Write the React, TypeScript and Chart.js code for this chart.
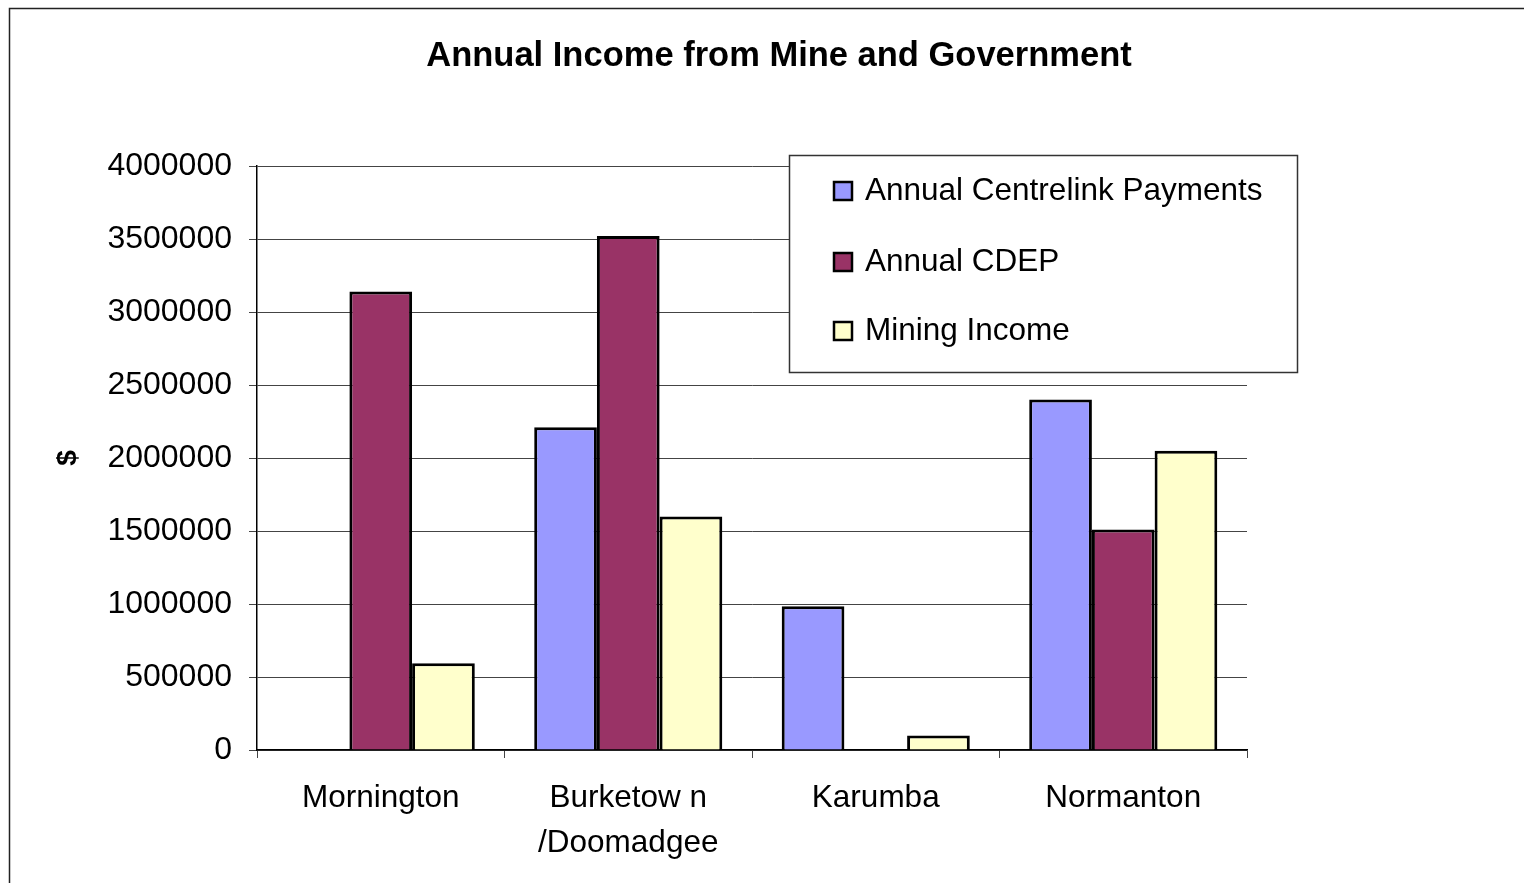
import React, { useEffect, useRef } from "react";
import { Chart, registerables } from "chart.js";

Chart.register(...registerables);

const categories: (string | string[])[] = [
  "Mornington",
  ["Burketow n", "/Doomadgee"],
  "Karumba",
  "Normanton",
];
const seriesNames = ["Annual Centrelink Payments", "Annual CDEP", "Mining Income"];
const centrelink = [0, 2210000, 985000, 2400000];
const cdep = [3140000, 3520000, 0, 1510000];
const mining = [595000, 1600000, 100000, 2050000];
const yTicks = [0, 500000, 1000000, 1500000, 2000000, 2500000, 3000000, 3500000, 4000000];

const colors = ["#9999FF", "#993366", "#FFFFCC"];
const FONT = "'Liberation Sans', Arial, sans-serif";

const framePlugin = {
  id: "frame",
  afterDraw(chart: any) {
    const ctx = chart.ctx;
    ctx.save();
    ctx.strokeStyle = "#222";
    ctx.lineWidth = 1.5;
    ctx.beginPath();
    ctx.moveTo(9.5, chart.height + 5);
    ctx.lineTo(9.5, 8.5);
    ctx.lineTo(chart.width + 5, 8.5);
    ctx.stroke();
    ctx.restore();
  },
};

const legendPlugin = {
  id: "boxLegend",
  afterDraw(chart: any) {
    const ctx = chart.ctx;
    const bx = 789.5, by = 155.5, bw = 508, bh = 217;
    ctx.save();
    ctx.fillStyle = "#ffffff";
    ctx.fillRect(bx, by, bw, bh);
    ctx.strokeStyle = "#333";
    ctx.lineWidth = 1.5;
    ctx.strokeRect(bx, by, bw, bh);
    const rows = [191, 262, 331];
    chart.data.datasets.forEach((ds: any, i: number) => {
      const cy = rows[i];
      ctx.fillStyle = ds.backgroundColor;
      ctx.fillRect(834, cy - 9, 18, 18);
      ctx.strokeStyle = "#000";
      ctx.lineWidth = 2.5;
      ctx.strokeRect(834, cy - 9, 18, 18);
      ctx.fillStyle = "#000";
      ctx.font = `31.5px ${FONT}`;
      ctx.textBaseline = "middle";
      ctx.textAlign = "left";
      ctx.fillText(ds.label, 865, cy);
    });
    ctx.restore();
  },
};

export default function App() {
  const ref = useRef<HTMLCanvasElement>(null);

  useEffect(() => {
    if (!ref.current) return;
    const seriesData = [centrelink, cdep, mining];
    const chart = new Chart(ref.current, {
      type: "bar",
      data: {
        labels: categories as any,
        datasets: seriesNames.map((name, i) => ({
          label: name,
          data: seriesData[i],
          backgroundColor: colors[i],
          borderColor: "#000",
          borderWidth: 3,
          categoryPercentage: 0.76,
          barPercentage: 1.0,
        })),
      },
      options: {
        animation: false,
        responsive: false,
        devicePixelRatio: 1,
        layout: { padding: { left: 34, right: 0, top: 0, bottom: 0 } },
        plugins: {
          legend: { display: false },
          tooltip: { enabled: false },
          title: {
            display: true,
            text: "Annual Income from Mine and Government",
            color: "#000",
            font: { family: FONT, size: 34.5, weight: "bold", lineHeight: 1.2 },
            padding: { top: 35.3, bottom: 89.3 },
          },
        },
        scales: {
          x: {
            grid: {
              display: true,
              drawOnChartArea: false,
              drawTicks: true,
              tickLength: 8,
              color: "#444",
              offset: true,
            },
            border: { display: true, color: "#000", width: 1.5 },
            ticks: {
              color: "#000",
              font: { family: FONT, size: 31.5, lineHeight: 45 / 31.5 },
              padding: 17.5,
              maxRotation: 0,
              autoSkip: false,
            },
            afterFit(scale: any) {
              scale.height = 133;
            },
          },
          y: {
            min: 0,
            max: 4000000,
            afterBuildTicks(scale: any) {
              scale.ticks = yTicks.map((v) => ({ value: v }));
            },
            grid: {
              color: "#444",
              lineWidth: 1,
              tickLength: 8,
              drawTicks: true,
            },
            border: { display: true, color: "#000", width: 1.5 },
            ticks: {
              color: "#000",
              font: { family: FONT, size: 32 },
              padding: 17,
              callback: (v: any) => String(v),
            },
            title: {
              display: true,
              text: "$",
              color: "#000",
              font: { family: FONT, size: 28, weight: "bold", lineHeight: 1.2 },
              padding: { top: 17, bottom: 0 },
            },
            afterFit(scale: any) {
              scale.width = 223;
            },
          },
          yRight: {
            position: "right",
            display: true,
            grid: { display: false, drawTicks: false },
            border: { display: false },
            ticks: { display: false },
            afterFit(scale: any) {
              scale.width = 277;
            },
          },
        },
      },
      plugins: [framePlugin, legendPlugin],
    });
    return () => chart.destroy();
  }, []);

  return (
    <div style={{ position: "fixed", left: 0, top: 0, width: 1524, height: 883, background: "#fff" }}>
      <canvas ref={ref} width={1524} height={883} style={{ display: "block", width: 1524, height: 883 }} />
    </div>
  );
}
